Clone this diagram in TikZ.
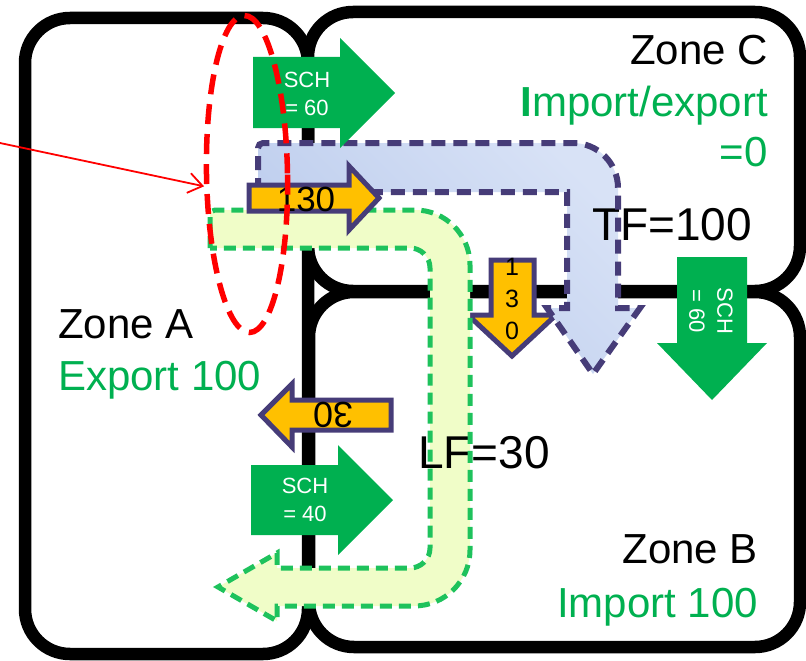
\documentclass[tikz,border=0pt]{standalone}
\usepackage{fontspec}
\setmainfont{Liberation Sans}
\usetikzlibrary{shapes.geometric,arrows.meta}

\definecolor{zonegreen}{HTML}{00B050}
\definecolor{flowgold}{HTML}{FFC000}
\definecolor{flowedge}{HTML}{463C78}
\definecolor{tfblue}{HTML}{B9CAEC}
\definecolor{tfbluelight}{HTML}{D8E2F6}
\definecolor{lffill}{HTML}{F0FDC8}
\definecolor{lfedge}{HTML}{1EC25C}

% outlines of the two loop-flow bands (pixel-style coordinates, y downwards)
\def\tfpath{(258,192) -- (258,148) arc[start angle=180,end angle=270,radius=5]
  -- (573,143) arc[start angle=270,end angle=360,radius=45]
  -- (618,308) -- (640,308) -- (593,374) -- (547,308) -- (567,308) -- (567,192) -- cycle}
\def\lfpath{(210,248) -- (210,215) arc[start angle=180,end angle=270,radius=5]
  -- (415,210) arc[start angle=270,end angle=360,radius=55]
  -- (470,550) arc[start angle=0,end angle=90,radius=56]
  -- (277,606) -- (277,621) -- (218,587) -- (277,553) -- (277,568)
  -- (410,568) arc[start angle=90,end angle=0,radius=20]
  -- (430,268) arc[start angle=0,end angle=-90,radius=20] -- cycle}

\begin{document}
\begin{tikzpicture}[x=1pt,y=-1pt,
  zone/.style={draw=black,line width=12.5pt,rounded corners=45pt},
  sch/.style={fill=zonegreen},
  schtext/.style={text=white,align=center,inner sep=0pt,font=\fontsize{22}{28}\selectfont},
  goldarrow/.style={fill=flowgold,draw=flowedge,line width=5pt,line join=miter},
  goldtext/.style={inner sep=0pt,font=\fontsize{35}{40}\selectfont},
  zonelabel/.style={inner sep=0pt,font=\fontsize{42}{50}\selectfont},
  flowlabel/.style={inner sep=0pt,font=\fontsize{46}{54}\selectfont,anchor=base west},
  tfedge/.style={draw=flowedge,line width=6pt,dash pattern=on 14pt off 8pt},
  lfedge/.style={draw=lfedge,line width=5pt,dash pattern=on 12pt off 7pt},
  ring/.style={ellipse,draw=red,line width=5.5pt,dash pattern=on 20pt off 10pt,inner sep=0pt}
]
\useasboundingbox (0,0) rectangle (806,661);

% the three zones
\draw[zone] (25,18) rectangle (308,654);
\draw[zone] (308,12) rectangle (800,291);
\draw[zone] (309,292) rectangle (800,647);

% flow from zone C into zone B
\draw[goldarrow] (491,260) -- (534,260) -- (534,315) -- (556,315) -- (512,356)
  -- (468,315) -- (491,315) -- cycle;
\node[inner sep=0pt,align=center,font=\fontsize{25}{32}\selectfont] (flowcb) at (512,299) {1\\3\\0};

% band fills
\shade[top color=tfbluelight,bottom color=tfblue,shading angle=-45] \tfpath;
\fill[lffill] \lfpath;

% band labels
\node[flowlabel] (tf) at (592,240) {TF=100};
\node[flowlabel] (lf) at (418,468) {LF=30};

% band outlines
\draw[tfedge] \tfpath;
\draw[lfedge] \lfpath;

% scheduled exchanges
\fill[sch] (253,57) -- (340,57) -- (340,38) -- (395,93) -- (340,148) -- (340,128) -- (253,128) -- cycle;
\node[schtext] (schac) at (307,94) {SCH\\= 60};
\fill[sch] (677,257) -- (747,257) -- (747,343) -- (767,343) -- (712,400) -- (657,343) -- (677,343) -- cycle;
\node[schtext,rotate=-90] (schcb) at (711,311) {SCH\\= 60};
\fill[sch] (251,465) -- (338,465) -- (338,445) -- (393,500) -- (338,555) -- (338,535) -- (251,535) -- cycle;
\node[schtext] (schab) at (305,500) {SCH\\= 40};

% physical flows across the A borders
\draw[goldarrow] (249,185) -- (349,185) -- (349,166) -- (379,198) -- (349,230) -- (349,211) -- (249,211) -- cycle;
\node[goldtext] (flowac) at (306,199) {130};
\draw[goldarrow] (391,400) -- (292,400) -- (292,384) -- (261,415) -- (292,447) -- (292,430) -- (391,430) -- cycle;
\node[goldtext,rotate=180,font=\fontsize{36}{40}\selectfont] (flowba) at (333,415) {30};

% zone captions
\node[zonelabel,anchor=base east] (zc) at (768,64) {Zone C};
\node[zonelabel,anchor=base east,text=zonegreen] (zcbal) at (768,117) {\textbf{I}mport/export};
\node[zonelabel,anchor=base east,text=zonegreen] (zczero) at (768,166) {=0};
\node[zonelabel,anchor=base west] (za) at (58,338) {Zone A};
\node[zonelabel,anchor=base west,text=zonegreen] (zabal) at (58,390) {Export 100};
\node[zonelabel,anchor=base east] (zb) at (758,563) {Zone B};
\node[zonelabel,anchor=base east,text=zonegreen] (zbbal) at (758,617) {Import 100};

% highlighted border and pointer
\node[ring,minimum width=81pt,minimum height=317pt,rotate=1] (border) at (247,174) {};
\coordinate (ptr) at (0,143);
\draw[red,line width=1.8pt,-{Straight Barb[length=14pt,width=20pt]}] (ptr) -- (border.195);
\end{tikzpicture}
\end{document}
